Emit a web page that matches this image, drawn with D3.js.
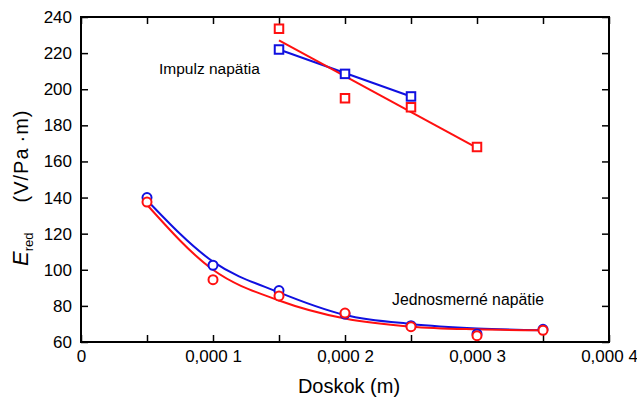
<!DOCTYPE html>
<html><head><meta charset="utf-8">
<script src="https://cdn.jsdelivr.net/npm/d3@7"></script>
<style>
html,body{margin:0;padding:0;background:#fff;}
text{font-family:"Liberation Sans",Arial,Helvetica,sans-serif;fill:#000;}
</style></head>
<body><svg id="c" width="637" height="398"></svg>
<script>
// ---- data ----
const xTickValues = [0,0.00005,0.0001,0.00015,0.0002,0.00025,0.0003,0.00035,0.0004];
const xTickLabels = ["0","","0,000 1","","0,000 2","","0,000 3","","0,000 4"];
const yTickValues = [60,80,100,120,140,160,180,200,220,240];

// Impulz napätia (squares)
const impX_blue = [0.00015,0.0002,0.00025];
const impY_blue = [222,208.5,196];
const impX_red = [0.00015,0.0002,0.00025,0.0003];
const impY_red = [233.5,195,190,168];
const impFitX_blue = [0.00015,0.00025];
const impFitY_blue = [222,196];
const impFitX_red = [0.00015,0.0003];
const impFitY_red = [227,167.5];

// Jednosmerné napätie (circles)
const dcX = [0.00005,0.0001,0.00015,0.0002,0.00025,0.0003,0.00035];
const dcY_blue = [140,102.5,88.5,75.5,69,64.5,67];
const dcY_red = [137.5,94.5,85.5,76,68.5,63.5,66.5];
const dcFitY_blue = [138.5,104.5,87.5,75,70,67.5,66.5];
const dcFitY_red = [136,100,83,73,68.5,67,66.5];

const BLUE = "#1010e0", RED = "#ff1010";

// ---- layout ----
const svg = d3.select("#c");
const L=81, R=609, T=17, B=342;
const x = d3.scaleLinear().domain([0,0.0004]).range([L,R]);
const y = d3.scaleLinear().domain([60,240]).range([B,T]);

// axes (inward ticks)
const fmt = v => xTickLabels[xTickValues.indexOf(v)] ?? "";
svg.append("g").attr("transform",`translate(0,${B})`)
  .call(d3.axisBottom(x).tickValues(xTickValues).tickFormat(fmt).tickSize(-7).tickPadding(8))
  .call(g=>{g.select(".domain").remove(); g.selectAll("line").attr("stroke-width",1.5);
    g.selectAll("text").attr("font-size",17).attr("font-family","Liberation Sans, Arial, sans-serif");});
svg.append("g").attr("transform",`translate(0,${T})`)
  .call(d3.axisTop(x).tickValues(xTickValues).tickFormat("").tickSize(-7))
  .call(g=>{g.select(".domain").remove(); g.selectAll("line").attr("stroke-width",1.5);});
svg.append("g").attr("transform",`translate(${L},0)`)
  .call(d3.axisLeft(y).tickValues(yTickValues).tickSize(-7).tickPadding(9))
  .call(g=>{g.select(".domain").remove(); g.selectAll("line").attr("stroke-width",1.5);
    g.selectAll("text").attr("font-size",17).attr("font-family","Liberation Sans, Arial, sans-serif");});
svg.append("g").attr("transform",`translate(${R},0)`)
  .call(d3.axisRight(y).tickValues(yTickValues).tickFormat("").tickSize(-7))
  .call(g=>{g.select(".domain").remove(); g.selectAll("line").attr("stroke-width",1.5);});
svg.append("rect").attr("x",L).attr("y",T).attr("width",R-L).attr("height",B-T)
  .attr("fill","none").attr("stroke","#000").attr("stroke-width",2);

// lines
const lineS = d3.line().x(d=>x(d[0])).y(d=>y(d[1]));
const lineC = d3.line().x(d=>x(d[0])).y(d=>y(d[1])).curve(d3.curveMonotoneX);
const zip = (a,b)=>a.map((v,i)=>[v,b[i]]);

svg.append("path").attr("d",lineC(zip(dcX,dcFitY_blue))).attr("fill","none").attr("stroke",BLUE).attr("stroke-width",2);
svg.append("path").attr("d",lineC(zip(dcX,dcFitY_red))).attr("fill","none").attr("stroke",RED).attr("stroke-width",2);
svg.append("path").attr("d",lineS(zip(impFitX_blue,impFitY_blue))).attr("fill","none").attr("stroke",BLUE).attr("stroke-width",2);
svg.append("path").attr("d",lineS(zip(impFitX_red,impFitY_red))).attr("fill","none").attr("stroke",RED).attr("stroke-width",2);

// markers
function circles(xs,ys,col){
  svg.append("g").selectAll("circle").data(zip(xs,ys)).join("circle")
    .attr("cx",d=>x(d[0])).attr("cy",d=>y(d[1])).attr("r",4.5)
    .attr("fill","#fff").attr("stroke",col).attr("stroke-width",2);
}
function squares(xs,ys,col){
  const s=8.5;
  svg.append("g").selectAll("rect").data(zip(xs,ys)).join("rect")
    .attr("x",d=>x(d[0])-s/2).attr("y",d=>y(d[1])-s/2).attr("width",s).attr("height",s)
    .attr("fill","#fff").attr("stroke",col).attr("stroke-width",2);
}
circles(dcX,dcY_blue,BLUE);
circles(dcX,dcY_red,RED);
squares(impX_blue,impY_blue,BLUE);
squares(impX_red,impY_red,RED);

// annotations
svg.append("text").attr("x",159).attr("y",74).attr("font-size",15.5).text("Impulz napätia");
svg.append("text").attr("x",392).attr("y",305).attr("font-size",15.8).text("Jednosmerné napätie");

// axis titles
svg.append("text").attr("x",349).attr("y",393).attr("text-anchor","middle").attr("font-size",20).text("Doskok (m)");
const yl = svg.append("text").attr("transform","translate(28,266) rotate(-90)").attr("text-anchor","start").attr("font-size",20);
yl.append("tspan").attr("font-style","italic").attr("font-size",22).text("E");
yl.append("tspan").attr("font-size",13).attr("dy",5).text("red");
yl.append("tspan").attr("dy",-5).attr("dx",30).attr("letter-spacing",1).text("(V/Pa\u2009·m)");
</script></body></html>
